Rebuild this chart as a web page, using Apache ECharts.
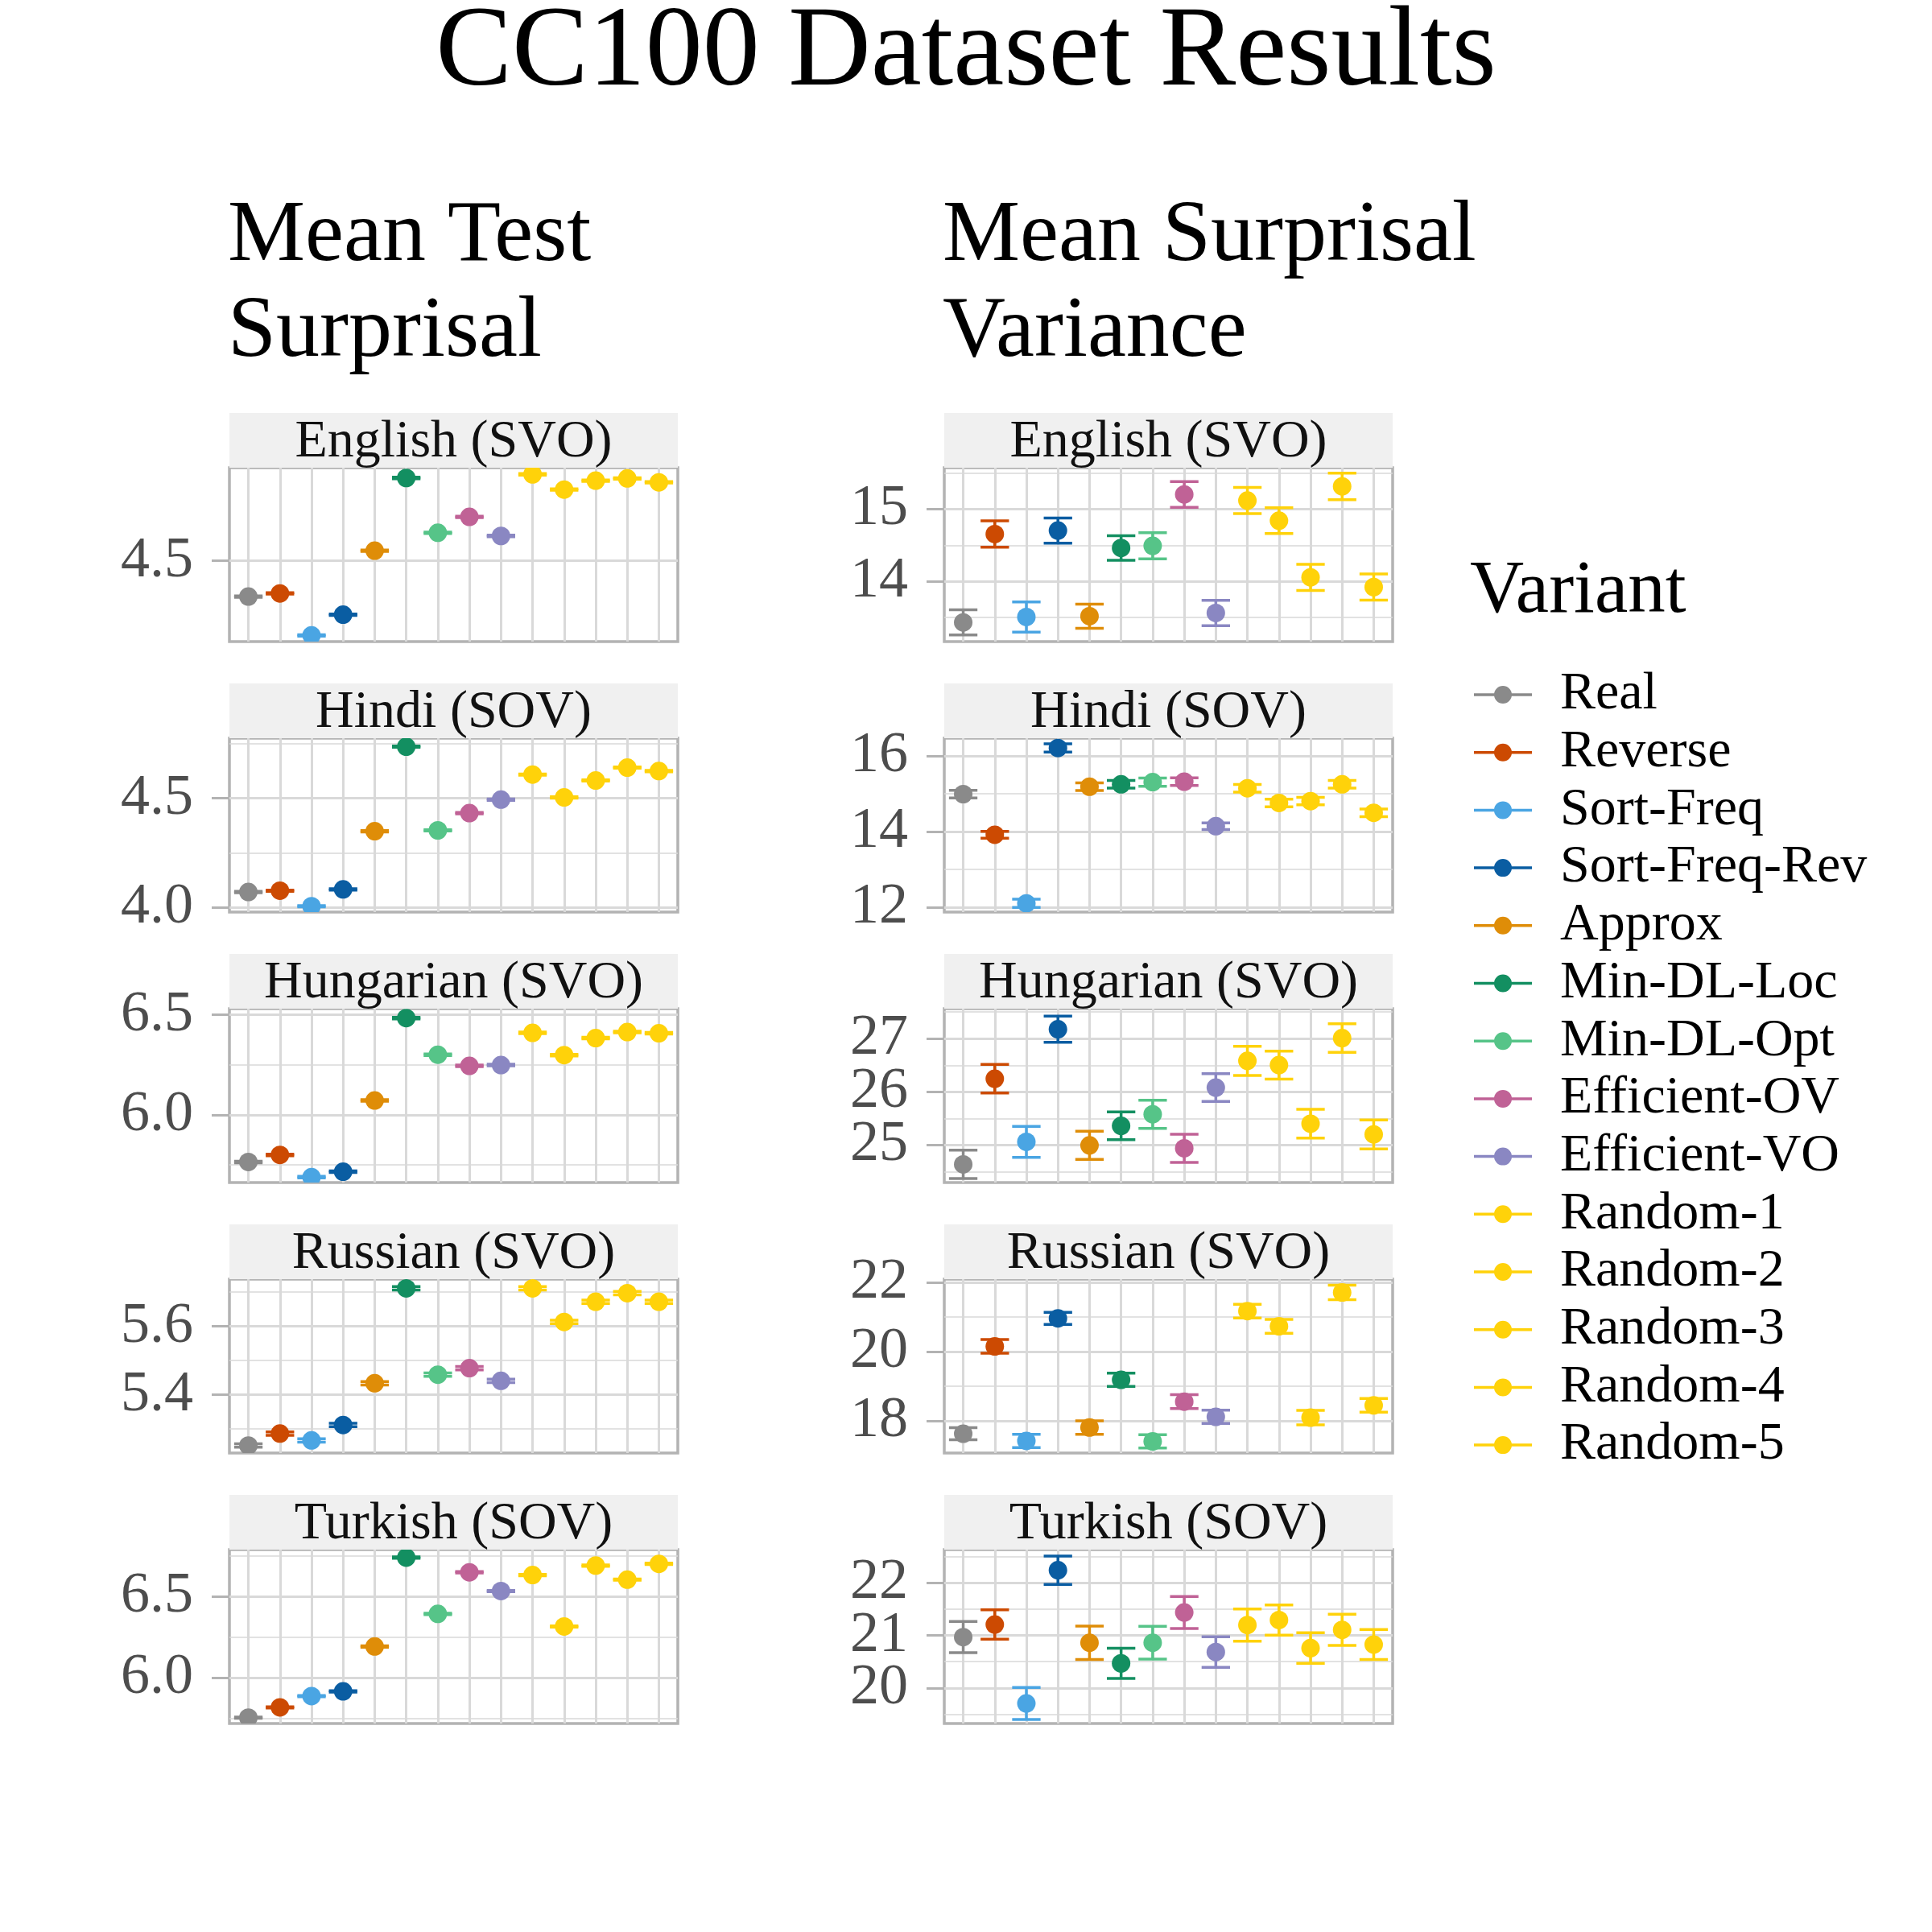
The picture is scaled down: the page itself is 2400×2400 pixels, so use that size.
<!DOCTYPE html>
<html>
<head>
<meta charset="utf-8">
<script src="https://cdn.jsdelivr.net/npm/echarts@6/dist/echarts.min.js"></script>
<style>html,body{margin:0;padding:0;background:#fff}#chart{width:2400px;height:2400px}</style>
</head>
<body>
<div id="chart"></div>
<script>
// ---------------- DATA ----------------
const variants = ["Real","Reverse","Sort-Freq","Sort-Freq-Rev","Approx","Min-DL-Loc","Min-DL-Opt","Efficient-OV","Efficient-VO","Random-1","Random-2","Random-3","Random-4","Random-5"];
const variantColors = ["#8A8A8A","#CC4A02","#4AA5E3","#0A5DA2","#DF8D08","#138F61","#56C488","#C06296","#8A87C2","#FFD20A","#FFD20A","#FFD20A","#FFD20A","#FFD20A"];
const languages = ["English (SVO)","Hindi (SOV)","Hungarian (SVO)","Russian (SVO)","Turkish (SOV)"];
const columnTitles = [["Mean Test","Surprisal"],["Mean Surprisal","Variance"]];

// Mean test surprisal
const surprisalEnglish   = [4.352,4.365,4.191,4.277,4.542,4.843,4.616,4.682,4.603,4.858,4.795,4.832,4.841,4.825];
const surprisalEnglishErr= [0.003,0.003,0.003,0.003,0.003,0.003,0.003,0.003,0.003,0.003,0.003,0.003,0.003,0.003];
const surprisalHindi     = [4.070,4.076,4.005,4.082,4.349,4.737,4.353,4.432,4.494,4.609,4.504,4.582,4.641,4.625];
const surprisalHindiErr  = [0.003,0.003,0.003,0.003,0.003,0.003,0.003,0.003,0.003,0.003,0.003,0.003,0.003,0.003];
const surprisalHungarian = [5.765,5.800,5.689,5.716,6.072,6.484,6.301,6.245,6.249,6.410,6.299,6.384,6.414,6.408];
const surprisalHungarianErr=[0.004,0.004,0.004,0.004,0.004,0.004,0.004,0.004,0.004,0.004,0.004,0.004,0.004,0.004];
const surprisalRussian   = [5.252,5.287,5.267,5.312,5.434,5.711,5.459,5.478,5.441,5.711,5.613,5.672,5.697,5.672];
const surprisalRussianErr= [0.005,0.005,0.005,0.005,0.005,0.005,0.005,0.005,0.005,0.005,0.005,0.005,0.005,0.005];
const surprisalTurkish   = [5.757,5.820,5.889,5.918,6.193,6.738,6.393,6.648,6.533,6.631,6.316,6.689,6.603,6.700];
const surprisalTurkishErr= [0.004,0.004,0.004,0.004,0.004,0.004,0.004,0.004,0.004,0.004,0.004,0.004,0.004,0.004];

// Mean surprisal variance
const varianceEnglish    = [13.433,14.656,13.507,14.704,13.519,14.463,14.493,15.204,13.563,15.119,14.841,14.056,15.315,13.922];
const varianceEnglishErr = [0.174,0.183,0.209,0.174,0.167,0.170,0.180,0.178,0.176,0.181,0.178,0.181,0.185,0.181];
const varianceHindi      = [14.99,13.915,12.10,16.21,15.187,15.25,15.307,15.32,14.141,15.145,14.756,14.806,15.25,14.495];
const varianceHindiErr   = [0.10,0.09,0.11,0.11,0.10,0.10,0.11,0.10,0.09,0.10,0.10,0.10,0.10,0.10];
const varianceHungarian  = [24.638,26.246,25.06,27.176,24.995,25.362,25.578,24.94,26.08,26.583,26.503,25.402,27.01,25.20];
const varianceHungarianErr=[0.266,0.269,0.29,0.246,0.264,0.261,0.266,0.264,0.261,0.274,0.264,0.271,0.269,0.271];
const varianceRussian    = [17.629,20.155,17.42,20.967,17.807,19.188,17.406,18.557,18.116,21.176,20.735,18.093,21.714,18.449];
const varianceRussianErr = [0.174,0.197,0.193,0.174,0.193,0.193,0.193,0.2,0.193,0.197,0.2,0.21,0.21,0.2];
const varianceTurkish    = [20.969,21.209,19.704,22.245,20.862,20.469,20.862,21.439,20.684,21.199,21.296,20.76,21.107,20.827];
const varianceTurkishErr = [0.298,0.281,0.306,0.27,0.319,0.288,0.314,0.306,0.291,0.306,0.288,0.291,0.298,0.286];

// Axis tick labels and ranges (per language row)
const ticksSurprisal = [["4.5"],["4.0","4.5"],["6.0","6.5"],["5.4","5.6"],["6.0","6.5"]];
const ticksVariance  = [["14","15"],["12","14","16"],["25","26","27"],["18","20","22"],["20","21","22"]];
const limitsSurprisal = [[4.1655,4.8855],[3.978,4.776],[5.662,6.531],[5.230,5.738],[5.721,6.787]];
const limitsVariance  = [[13.167,15.574],[11.87,16.47],[24.296,27.563],[17.07,22.10],[19.321,22.638]];

const surprisalValues = [surprisalEnglish,surprisalHindi,surprisalHungarian,surprisalRussian,surprisalTurkish];
const surprisalErrors = [surprisalEnglishErr,surprisalHindiErr,surprisalHungarianErr,surprisalRussianErr,surprisalTurkishErr];
const varianceValues  = [varianceEnglish,varianceHindi,varianceHungarian,varianceRussian,varianceTurkish];
const varianceErrors  = [varianceEnglishErr,varianceHindiErr,varianceHungarianErr,varianceRussianErr,varianceTurkishErr];

// ---------------- LAYOUT / STYLE ----------------
const FONT = "'Liberation Serif','Times New Roman','DejaVu Serif',serif";
const colLeft = [285, 1173];
const colWidth = 557;
const plotTop0 = 581, rowStep = 336, plotH = 216, stripH = 68;
const borderColor = '#B3B3B3', gridColor = '#D9D9D9';

const grids = [], xAxes = [], yAxes = [], series = [], graphics = [];

function minorFrom(ticks, lim) {
  if (ticks.length < 2) return [];
  const step = ticks[1] - ticks[0];
  const out = [];
  for (let v = ticks[0] - step / 2; v <= ticks[ticks.length - 1] + step / 2 + 1e-9; v += step) {
    if (v > lim[0] && v < lim[1]) out.push(+v.toFixed(6));
  }
  return out;
}

function renderItem(params, api) {
  const x = api.value(0), y = api.value(1), e = api.value(2);
  const c = api.coord([x, y]);
  const lo = api.coord([x, y - e]);
  const hi = api.coord([x, y + e]);
  const half = api.size([0.9, 0])[0] / 2;
  const color = api.visual('color');
  const ls = { stroke: color, lineWidth: 3.5 };
  return {
    type: 'group',
    children: [
      { type: 'line', shape: { x1: c[0], y1: lo[1], x2: c[0], y2: hi[1] }, style: ls },
      { type: 'line', shape: { x1: c[0] - half, y1: lo[1], x2: c[0] + half, y2: lo[1] }, style: ls },
      { type: 'line', shape: { x1: c[0] - half, y1: hi[1], x2: c[0] + half, y2: hi[1] }, style: ls },
      { type: 'circle', shape: { cx: c[0], cy: c[1], r: 11.5 }, style: { fill: color } }
    ]
  };
}

function majorAxis(g, lim, vals, decimals) {
  return { type: 'value', gridIndex: g, min: lim[0], max: lim[1], position: 'left', offset: 0,
    axisLine: { show: false },
    axisTick: { show: vals.length > 0, length: 22, customValues: vals, lineStyle: { color: borderColor, width: 3 } },
    axisLabel: { show: vals.length > 0, customValues: vals, margin: 45, color: '#4D4D4D', fontSize: 72, fontFamily: FONT,
      hideOverlap: false, formatter: v => Number(v).toFixed(decimals) },
    splitLine: { show: vals.length > 0, lineStyle: { color: gridColor, width: 3 } } };
}

const catIndex = variants.map((v, i) => i);
let g = 0;
for (let col = 0; col < 2; col++) {
  for (let row = 0; row < languages.length; row++) {
    const vals = col === 0 ? surprisalValues[row] : varianceValues[row];
    const errs = col === 0 ? surprisalErrors[row] : varianceErrors[row];
    const tickLabels = col === 0 ? ticksSurprisal[row] : ticksVariance[row];
    const lim = col === 0 ? limitsSurprisal[row] : limitsVariance[row];
    const tickVals = tickLabels.map(Number);
    const decimals = (tickLabels[0].split('.')[1] || '').length;
    const minors = minorFrom(tickVals, lim);
    const top = plotTop0 + rowStep * row;

    grids.push({ left: colLeft[col], top: top, width: colWidth, height: plotH,
      show: true, borderColor: borderColor, borderWidth: 3.5, backgroundColor: 'transparent', containLabel: false });

    xAxes.push({ type: 'value', gridIndex: g, min: -0.6, max: variants.length - 0.4,
      axisLine: { show: false }, axisLabel: { show: false },
      axisTick: { show: false, customValues: catIndex },
      splitLine: { show: true, lineStyle: { color: gridColor, width: 3 } } });

    // minor grid lines (drawn first)
    yAxes.push({ type: 'value', gridIndex: g, min: lim[0], max: lim[1], position: 'right',
      axisLine: { show: false }, axisLabel: { show: false },
      axisTick: { show: false, customValues: minors },
      splitLine: { show: minors.length > 0, lineStyle: { color: gridColor, width: 1.6 } } });
    // major ticks split in two alternating label sets so closely spaced labels all show
    const yMain = yAxes.length;
    yAxes.push(majorAxis(g, lim, tickVals.filter((v, k) => k % 2 === 0), decimals));
    yAxes.push(majorAxis(g, lim, tickVals.filter((v, k) => k % 2 === 1), decimals));

    variants.forEach((name, i) => {
      series.push({ type: 'custom', name: name, xAxisIndex: g, yAxisIndex: yMain,
        itemStyle: { color: variantColors[i] }, clip: true, silent: true,
        encode: { x: 0, y: 1 }, renderItem: renderItem,
        data: [[i, vals[i], errs[i]]] });
    });

    // facet strip
    graphics.push({ type: 'rect', shape: { x: colLeft[col], y: top - stripH, width: colWidth, height: stripH },
      style: { fill: '#F0F0F0' }, z: 10 });
    graphics.push({ type: 'text', x: colLeft[col] + colWidth / 2, y: top - stripH / 2 + 3, z: 11,
      style: { text: languages[row], font: "66px " + FONT, fill: '#111',
        align: 'center', verticalAlign: 'middle', textAlign: 'center', textVerticalAlign: 'middle' } });
    g++;
  }
}

// main title
graphics.push({ type: 'text', x: 1200, y: 68, z: 11,
  style: { text: 'CC100 Dataset Results', font: "142px " + FONT, fill: '#000',
    align: 'center', verticalAlign: 'middle', textAlign: 'center', textVerticalAlign: 'middle' } });
// column titles
const colTitleX = [283, 1171];
for (let col = 0; col < 2; col++) {
  columnTitles[col].forEach((line, k) => {
    graphics.push({ type: 'text', x: colTitleX[col], y: 294.5 + 119 * k, z: 11,
      style: { text: line, font: "108px " + FONT, fill: '#000',
        align: 'left', verticalAlign: 'middle', textAlign: 'left', textVerticalAlign: 'middle' } });
  });
}
// legend title
graphics.push({ type: 'text', x: 1826, y: 736, z: 11,
  style: { text: 'Variant', font: "93px " + FONT, fill: '#000',
    align: 'left', verticalAlign: 'middle', textAlign: 'left', textVerticalAlign: 'middle' } });

const legendIcon = 'path://M0,9.25H27V12.75H0Z M45,9.25H72V12.75H45Z M25,11A11,11,0,1,1,47,11A11,11,0,1,1,25,11Z';

const chart = echarts.init(document.getElementById('chart'), null, { renderer: 'canvas' });
chart.setOption({
  backgroundColor: '#ffffff',
  animation: false,
  grid: grids,
  xAxis: xAxes,
  yAxis: yAxes,
  series: series,
  legend: {
    data: variants, orient: 'vertical', left: 1826, top: 825, padding: 5,
    itemWidth: 72, itemHeight: 22, itemGap: 5.7, icon: legendIcon, selectedMode: false,
    textStyle: { fontFamily: FONT, fontSize: 66, color: '#000', padding: [0, 0, 0, 30] }
  },
  graphic: { elements: graphics }
});
</script>
</body>
</html>
